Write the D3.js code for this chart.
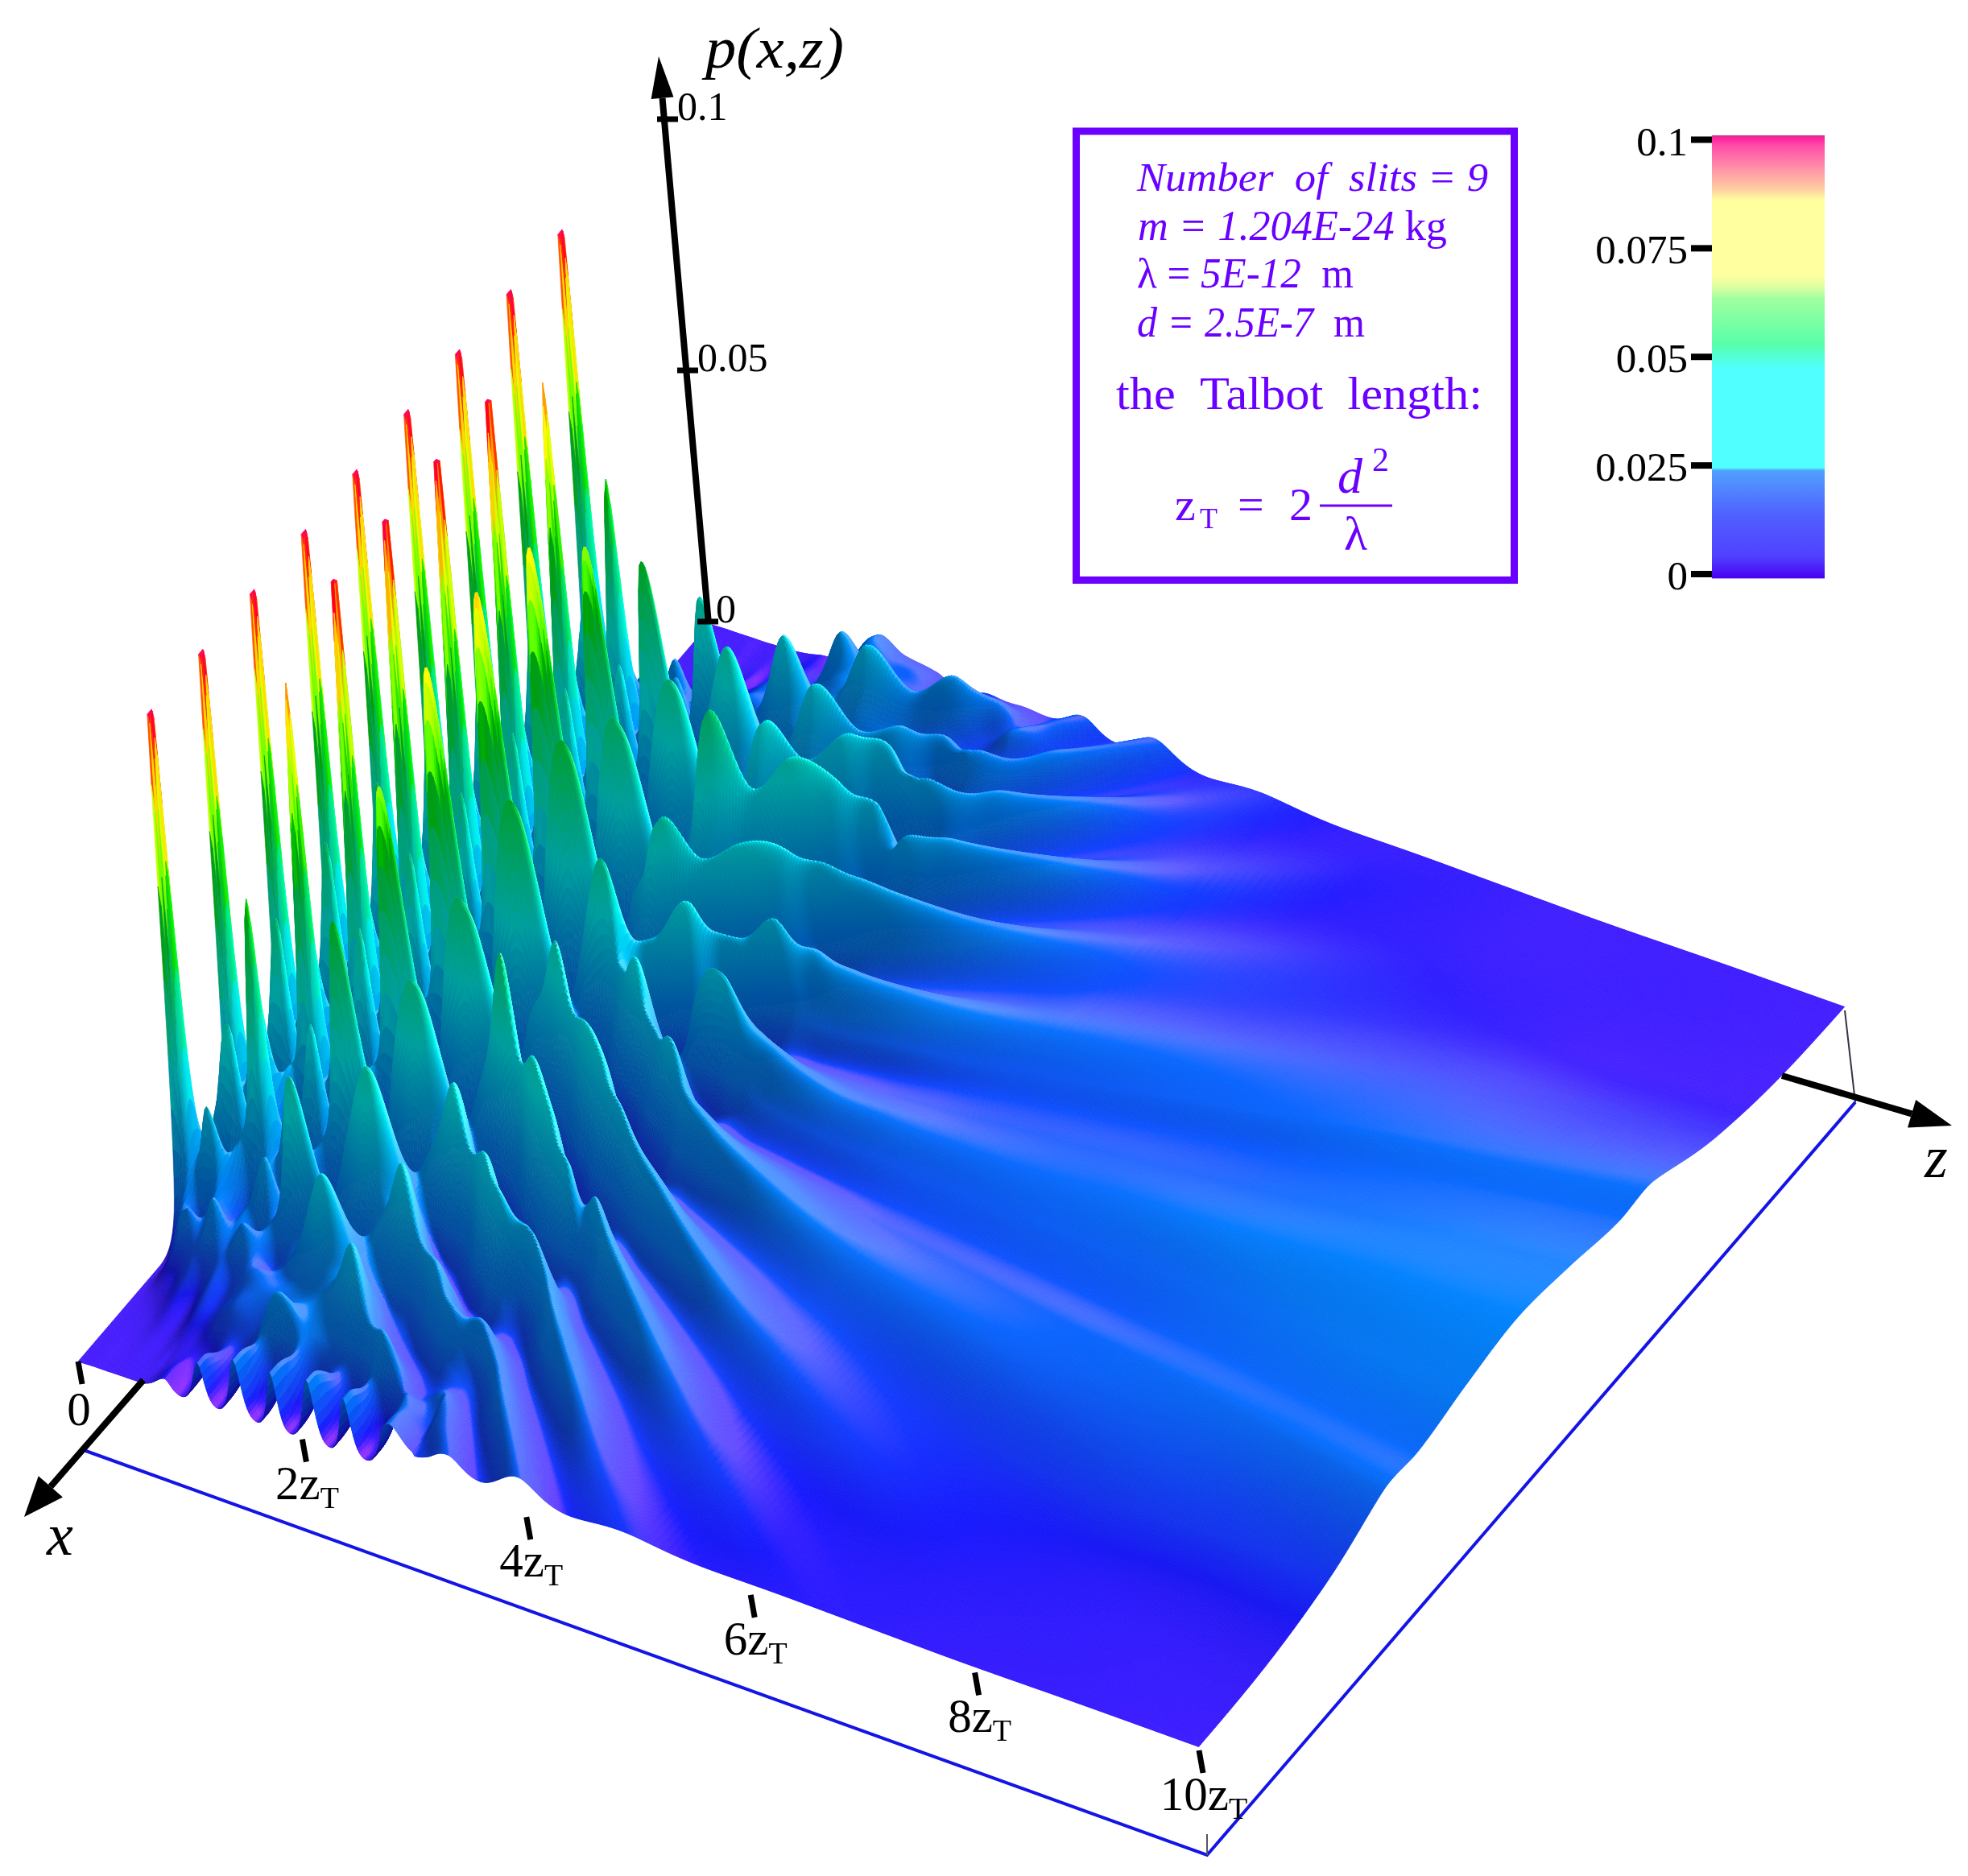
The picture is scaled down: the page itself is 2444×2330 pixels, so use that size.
<!DOCTYPE html>
<html><head><meta charset="utf-8">
<script src="https://cdn.jsdelivr.net/npm/d3@7"></script>
<style>
html,body{margin:0;padding:0;background:#fff}
#wrap{position:relative;width:2444px;height:2330px;overflow:hidden}
canvas,svg{position:absolute;left:0;top:0}
text{font-family:"Liberation Serif","Times New Roman",serif}
</style></head><body><div id="wrap"></div>
<script>
// Near field: distance along the beam (Talbot lengths) and transverse position (slit spacings).
const zRows=[0,.125,.25,.375,.5,.625,.75,.875,1,1.25,1.5,1.75,2,2.25,2.5,2.75,3,3.25,3.5,3.75];
const xCols=[0,.25,.5,.75,1,1.25,1.5,1.75,2,2.25,2.5,2.75,3,3.25,3.5,3.75,4,4.25,4.5,4.75,5,5.25,5.5,5.75,6,6.25];
// p(x,z), in units of 0.001 (pattern mirrors about x = 0).
// The tallest spikes run past the top of the p range and are cut off at 0.1.
const pTable=[
[125,5,.4,5,125,5,.4,5,125,5,.4,5,125,5,.4,5,125,5,.1,0,0,0,0,0,0,0],
[19,20,19,20,19,20,19,20,19,20,19,20,19,20,19,18,17,13,6,2,.5,.2,.1,.1,.1,.1],
[48,8,48,8,48,8,48,8,47,8,45,8,42,8,36,7,26,6,12,3,1.5,.5,.2,.1,.1,.1],
[19,21,19,21,19,21,19,21,19,21,19,20,18,19,18,17,15,12,9,6,3,1.5,.6,.3,.2,.1],
[3,6,115,6,3,6,112,6,3,6,92,7,3,11,62,11,5,7,16,5,2,1,.5,.3,.2,.1],
[19,21,19,21,19,20,19,20,19,20,18,18,16,16,15,14,12,11,9,7,5,3,1.5,.7,.4,.2],
[44,9,44,9,44,9,43,9,41,9,38,9,34,9,28,9,20,8,13,6,4,3,1.5,.8,.5,.3],
[19,19,19,19,18,19,18,19,17,18,16,16,15,15,13,12,11,11,10,8,6,5,3,1.8,1,.6],
[83,9,3,9,80,9,3,9,69,10,4,11,55,13,5,14,37,12,6,9,8,7,4,3,2,1],
[34,11,34,11,33,11,32,11,30,11,28,11,25,11,21,11,18,9,13,9,9,7,5,3.5,2.5,1.5],
[4,20,52,20,4,20,44,20,5,20,41,21,6,20,37,20,7,17,28,14,10,12,17,10,10,8],
[22,13,22,13,21,13,20,13,19,13,18,14,17,15,17,16,16,14,15,14,14,12,10,8,8,6],
[40,14,4,14,36,15,5,20,45,20,5,20,32,20,6,16,28,16,8,14,24,13,7,7,7,5],
[14,24,16,5,10,28,12,4,11,30,12,4,10,24,10,5,9,18,9,6,8,14,8,5,4,3],
[4,14,30,14,3,14,30,15,3,17,35,17,3,15,28,14,4,11,18,9,5,8,16,8,5,5],
[20,9,8,22,12,4,14,28,14,4,14,30,14,4,12,25,11,5,8,15,8,5,6,10,6,4],
[26,9,4,9,25,9,4,9,24,9,5,10,24,8,6,20,8,5,8,14,7,6,9,7,5,4],
[16,12,6,8,12,18,9,6,12,20,8,8,20,8,6,10,15,7,5,7,10,6,5,6,7,5],
[12,9,6,7,11,14,8,6,9,14,16,8,10,15,7,6,7,9,11,6,5,7,9,6,5,5],
[10,8,6,6,9,12,10,7,7,10,12,8,8,11,11,7,6,7,9,9,6,6,7,7,6,5]
];
// Far field: ridges fan out along rays, so this table is indexed by the ray slope |x|/z.
const farRows=[3,3.5,4,4.5,5,6,7,8,9,10];
const rayCols=[0,.1,.19,.26,.38,.53,.68,.815,.95,1.1,1.25,1.4,1.55,1.7,1.85,2.1,2.5,3];
const farTable=[
[24,12,5,10,22,6,23,6,25,6,24,5,16,5,10,5,5,4],
[14,8,5,8,15,6,17,6,17,5.5,14,5,10,4,6,4,3.5,3],
[10,7,5,7.5,12,6,12,5.5,12,5,9,4,7,3.5,4,3,3,2.5],
[9,7,5.5,7,10,6,9,5,8,4,5,3,4,3,3,2.5,2,2],
[8.5,7,6,7,9,6,7,4,5,3,3.5,2.5,3,2,2,2,1.5,1.5],
[8.5,7.5,6.5,7.5,8,4.5,4,2.5,2.5,1.8,2,1.6,1.6,1.4,1.4,1.2,1,1],
[9.5,8,7,8,7,3.5,2.5,1.8,1.5,1.2,1.2,1,1,.9,.9,.8,.8,.8],
[10.5,9,8,8.5,6,2.5,1.5,1,.8,.8,.8,.7,.7,.6,.6,.6,.6,.6],
[11.5,10,8.5,8.5,4.5,1.5,1,.7,.6,.6,.5,.5,.5,.5,.5,.5,.5,.5],
[12,10.5,8.5,8.5,3.5,1,.6,.5,.5,.5,.4,.4,.4,.4,.4,.4,.4,.4]
];
// Saw-teeth of the near edge (x at its lowest), 0.001 units
const edgeZ=[.6,.78,.93,1.09,1.25,1.42,1.6,1.75,1.9,2.08,2.25,2.4,2.57,2.75,3];
const edgeP=[.3,2.5,.2,8,.3,11,.3,11,.3,12,.3,11,.3,8,5];

const zTicks=[0,2,4,6,8,10];
const zTickLabels=["0","2z","4z","6z","8z","10z"];
const pTicks=[0,.05,.1];
const pTickLabels=["0","0.05","0.1"];
const barTicks=[0,.025,.05,.075,.1];
const barTickLabels=["0","0.025","0.05","0.075","0.1"];
// surface colour: hue against p
const hueP=[0,.002,.004,.007,.01,.018,.028,.04,.05,.06,.07,.08,.09,.097,.1];
const hueDeg=[250,243,232,222,212,200,185,165,145,118,85,60,28,-15,-25];
// colour bar
const barP=[-.001,.004,.0135,.0238,.0245,.0473,.0531,.0634,.0663,.0688,.0861,.0885,.0934,.0985,.1004,.101];
const barColors=["#4800f0","#5040ff","#5060ff","#50a0ff","#50ffff","#50ffff","#58ffa8","#a0ffa0","#e0ffa0","#ffffa0","#ffffa0","#ffd0a0","#ff90a8","#ff50a8","#ff20a0","#c04080"];

const W=2444,H=2330,XMAX=6.15;
const wrap=d3.select("#wrap");
const canvas=wrap.append("canvas").attr("width",W).attr("height",H);
const ctx=canvas.node().getContext("2d");
const svg=wrap.append("svg").attr("width",W).attr("height",H);

// ---- scales and view
const uScale=d3.scaleLinear([-XMAX,XMAX],[0,1]);
const vScale=d3.scaleLinear([0,10],[0,1]);
const hScale=d3.scaleLinear([0,.1],[0,647]);
const A=[97,1691],B=[1489,2174],C=[2291,1255],D=[881,775],LEAN=.075;
function floorPt(x,z){const u=uScale(x),v=vScale(z);
  return [ (1-u)*((1-v)*A[0]+v*B[0])+u*((1-v)*D[0]+v*C[0]),
           (1-u)*((1-v)*A[1]+v*B[1])+u*((1-v)*D[1]+v*C[1]) ];}
function proj(x,z,p){const f=floorPt(x,z),h=hScale(p);return [f[0]-LEAN*h,f[1]-h];}

// ---- smooth resampling of the tables for drawing (log-height spline)
const EPS=.0006,lg=v=>Math.log(v*.001+EPS);
const logTable=pTable.map(r=>[...r.slice(1).reverse(),...r].map(lg));
const logFar=farTable.map(r=>[...r.slice(1).reverse(),...r].map(lg));
const fullRay=[...rayCols.slice(1).reverse().map(d=>-d),...rayCols];
const logEdge=edgeP.map(lg);
const nCol=logTable[0].length;
function hermite(t,f0,f1,m0,m1,h){const t2=t*t,t3=t2*t;
  return (2*t3-3*t2+1)*f0+(t3-2*t2+t)*h*m0+(-2*t3+3*t2)*f1+(t3-t2)*h*m1;}
function tangent(ts,fs,i){const a=Math.max(0,i-1),b=Math.min(ts.length-1,i+1);return (fs[b]-fs[a])/(ts[b]-ts[a]);}
function spline(ts,fs,t){let i=d3.bisectRight(ts,t)-1;i=Math.max(0,Math.min(ts.length-2,i));
  const tt=Math.max(ts[0],Math.min(ts[ts.length-1],t));
  const h=ts[i+1]-ts[i];return hermite((tt-ts[i])/h,fs[i],fs[i+1],tangent(ts,fs,i),tangent(ts,fs,i+1),h);}
function rowEval(k,x){const a=logTable[k];let q=(x+6.25)*4;q=Math.max(0,Math.min(nCol-1.0001,q));
  const i=Math.floor(q),t=q-i;
  const m0=i>0?(a[i+1]-a[i-1])/2:a[1]-a[0], m1=i<nCol-2?(a[i+2]-a[i])/2:a[nCol-1]-a[nCol-2];
  return hermite(t,a[i],a[i+1],m0,m1,1);}
// sideways drift of the ridges between rows, in slit spacings per Talbot length
function drift(x,z){const ax=Math.abs(x),sg=x<0?-1:1;
  if(z<1.75)return 0;
  if(z<2)return sg*.5*Math.min(1,ax);
  if(z<2.5)return sg*Math.min(1,ax);
  if(z<3)return sg*.5*Math.min(1,ax);
  return sg*Math.min(1,ax/z);}
function nearLog(x,z){
  let i=d3.bisectRight(zRows,z)-1;i=Math.max(0,Math.min(zRows.length-2,i));
  const s=drift(x,z),n=zRows.length;
  const at=k=>rowEval(k,x-s*(z-zRows[k]));
  const a=i>0?i-1:i,b=Math.min(n-1,i+2);
  const f0=at(i),f1=at(i+1);
  const m0=i===0?0:(f1-at(a))/(zRows[i+1]-zRows[a]);
  const m1=(at(b)-f0)/(zRows[b]-zRows[i]);
  return hermite((z-zRows[i])/(zRows[i+1]-zRows[i]),f0,f1,m0,m1,zRows[i+1]-zRows[i]);
}
const fineZ=[];
for(let z=0;z<5;z+=1/64)fineZ.push(z);
for(let z=5;z<=10.0001;z+=1/16)fineZ.push(Math.min(z,10));
const fineX=[];const dxFine=1/48;
for(let k=Math.ceil(-XMAX/dxFine);k<=Math.floor(XMAX/dxFine);k++)fineX.push(k*dxFine);
fineX.unshift(-XMAX);fineX.push(XMAX);

const farCols=fullRay.map((_,c)=>logFar.map(r=>r[c]));
const smooth=t=>{t=Math.max(0,Math.min(1,t));return t*t*(3-2*t);};
const P=fineZ.map(z=>{
  const farAt=z>=3?farCols.map(col=>spline(farRows,col,z)):null;
  const w=smooth((z-3)/.5);
  const edgeVal=(z>=.6&&z<=3)?spline(edgeZ,logEdge,z):0;
  return fineX.map(x=>{
    let l=0;
    if(w<1)l+=(1-w)*nearLog(x,z);
    if(w>0)l+=w*spline(fullRay,farAt,Math.abs(x)/z);
    if(x<-5.4&&z>=.6&&z<=3){const e=smooth((-x-5.4)/.65);l=(1-e)*l+e*edgeVal;}
    return Math.max(0,Math.min(.1,Math.exp(l)-EPS));
  });
});

// ---- colour look-up
const hueOf=d3.scaleLinear(hueP,hueDeg).clamp(true);
const LUT=d3.range(1001).map(i=>{const p=i/1000*.1,c=d3.rgb(d3.hsl(hueOf(p),1,.5));
  const lift=Math.max(0,1-p/.012)*30;return [Math.min(255,c.r+lift),Math.min(255,c.g+lift),c.b];});

// ---- lighting
const Lx=.55,Lz=.5,Lu=.67,pxPerD=98,pxPerZ=148,AMB=.62;
function shadeColor(p,gx,gz){
  const nn=Math.hypot(gx,gz,1);
  const s=(-gx*Lx-gz*Lz+Lu)/nn/Lu;
  let b=s<1?AMB+(1-AMB)*Math.max(0,s):1;
  b=Math.max(b,Math.min(1,(p-.045)/.02));
  const w=s>1?Math.min(.38,(s-1)*1.8):0;
  const c=LUT[Math.round(p/.1*1000)];
  const r=Math.min(255,c[0]*b+w*210),g=Math.min(255,c[1]*b+w*55),bl=Math.min(255,c[2]*b+w*100);
  return `rgb(${r|0},${g|0},${bl|0})`;
}

// ---- painter's order: far x first, small z first
const nz=fineZ.length,nx=fineX.length;
ctx.lineWidth=.7;ctx.lineJoin="round";
const screen=fineZ.map((z,j)=>fineX.map((x,i)=>proj(x,z,P[j][i])));
for(let i=nx-2;i>=0;i--){
  const il=Math.max(0,i-1),ir=Math.min(nx-1,i+2);
  for(let j=0;j<nz-1;j++){
    const jl=Math.max(0,j-1),jr=Math.min(nz-1,j+2);
    const p=(P[j][i]+P[j][i+1]+P[j+1][i]+P[j+1][i+1])/4;
    const gx=(hScale(P[j][ir]+P[j+1][ir])-hScale(P[j][il]+P[j+1][il]))/2/((fineX[ir]-fineX[il])*pxPerD);
    const gz=(hScale(P[jr][i]+P[jr][i+1])-hScale(P[jl][i]+P[jl][i+1]))/2/((fineZ[jr]-fineZ[jl])*pxPerZ);
    const col=shadeColor(p,gx,gz);
    ctx.fillStyle=col;ctx.strokeStyle=col;
    const a=screen[j][i],b=screen[j][i+1],c=screen[j+1][i+1],d=screen[j+1][i];
    ctx.beginPath();ctx.moveTo(a[0],a[1]);ctx.lineTo(b[0],b[1]);ctx.lineTo(c[0],c[1]);ctx.lineTo(d[0],d[1]);ctx.closePath();
    ctx.fill();ctx.stroke();
  }
}

// ---- overlay
const line=d3.line();
function arrow(from,to,headLen,headW,lw){
  const dx=to[0]-from[0],dy=to[1]-from[1],L=Math.hypot(dx,dy),ux=dx/L,uy=dy/L;
  const bx=to[0]-ux*headLen,by=to[1]-uy*headLen;
  svg.append("path").attr("d",line([from,[bx,by]])).attr("stroke","#000").attr("stroke-width",lw).attr("fill","none");
  svg.append("path").attr("d",line([to,[bx-uy*headW/2,by+ux*headW/2],[bx+uy*headW/2,by-ux*headW/2]])+"Z").attr("fill","#000");
}
function txt(s,x,y,size,opt={}){return svg.append("text").attr("x",x).attr("y",y).attr("font-size",size)
  .attr("fill",opt.fill||"#000").attr("font-style",opt.italic?"italic":"normal").attr("text-anchor",opt.anchor||"start")
  .attr("textLength",opt.len||null).attr("lengthAdjust",opt.len?"spacingAndGlyphs":null).text(s);}

// base frame
const E=[101,1800],F=[1499,2304],G=[2304,1369];
svg.append("path").attr("d",line([E,F,G])).attr("fill","none").attr("stroke","#1414e6").attr("stroke-width",4);
svg.append("path").attr("d",line([C,G])).attr("stroke","#334").attr("stroke-width",2).attr("fill","none");
svg.append("path").attr("d",line([[1499,2278],F])).attr("stroke","#556").attr("stroke-width",2).attr("fill","none");

arrow([178,1714],[30,1884],50,40,8);
arrow([2213,1336],[2424,1398],52,36,8);
arrow([880,775],[818,70],52,28,8);

// z ticks on the near edge
const zt=svg.append("g");
zTicks.forEach((z,i)=>{const f=floorPt(-XMAX,z);
  zt.append("line").attr("x1",f[0]).attr("y1",f[1]).attr("x2",f[0]+5).attr("y2",f[1]+28).attr("stroke","#000").attr("stroke-width",7);
  const t=zt.append("text").attr("x",f[0]+(i?6:1)).attr("y",f[1]+(i?74:79)).attr("font-size",59).attr("text-anchor","middle").text(zTickLabels[i]);
  if(i)t.append("tspan").attr("font-size",38).attr("dy",11).text("T");
});

// p axis ticks
const axisY=d3.scaleLinear([0,.1],[772,148]),axisX=d3.scaleLinear([0,.1],[880,830]);
pTicks.forEach((p,i)=>{
  svg.append("line").attr("x1",axisX(p)-14).attr("y1",axisY(p)).attr("x2",axisX(p)+12).attr("y2",axisY(p)).attr("stroke","#000").attr("stroke-width",7);
  txt(pTickLabels[i],axisX(p)+(i?11:9),axisY(p)+1,50);
});
txt("p(x,z)",876,84,72,{italic:true,len:172});
txt("x",58,1931,74,{italic:true});
txt("z",2390,1462,74,{italic:true});

// info box
const ink="#6a00ff",sp="\u00a0";
svg.append("rect").attr("x",1336.5).attr("y",163).attr("width",544).attr("height",557.5).attr("fill","none").attr("stroke",ink).attr("stroke-width",9);
const o={fill:ink};
txt(`Number${sp}${sp}of${sp}${sp}slits = 9`,1412,237,50,{fill:ink,italic:true,len:436});
const l2=txt("",1413,298,52,{fill:ink,len:384});l2.append("tspan").attr("font-style","italic").text("m = 1.204E-24 ");l2.append("tspan").text("kg");
const l3=txt("",1412,357,52,{fill:ink,len:269});l3.append("tspan").text("λ = ");l3.append("tspan").attr("font-style","italic").text("5E-12 ");l3.append("tspan").text(sp+"m");
const l4=txt("",1412,418,52,{fill:ink,len:283});l4.append("tspan").attr("font-style","italic").text("d = 2.5E-7 ");l4.append("tspan").text(sp+"m");
txt(`the${sp}${sp}Talbot${sp}${sp}length:`,1386,508,56,{fill:ink,len:455});
txt("z",1459,646,58,o);txt("T",1490,656,36,o);
txt("=",1537,646,58,o);txt("2",1601,646,58,o);
svg.append("line").attr("x1",1639).attr("x2",1729).attr("y1",628).attr("y2",628).attr("stroke",ink).attr("stroke-width",3);
txt("d",1661,612,62,{fill:ink,italic:true});txt("2",1704,585,42,o);txt("λ",1669,683,60,o);

// colour bar
const barY=d3.scaleLinear([0,.1],[713,173.5]);
const barX0=2126,barW=140;
const defs=svg.append("defs");
const grad=defs.append("linearGradient").attr("id","bar").attr("x1",0).attr("x2",0).attr("y1",1).attr("y2",0);
const lo=barP[0],hi=barP[barP.length-1];
barP.forEach((p,i)=>grad.append("stop").attr("offset",(p-lo)/(hi-lo)).attr("stop-color",barColors[i]));
svg.append("rect").attr("x",barX0).attr("y",barY(hi)).attr("width",barW).attr("height",barY(lo)-barY(hi)).attr("fill","url(#bar)");
barTicks.forEach((p,i)=>{
  svg.append("line").attr("x1",2100).attr("x2",barX0).attr("y1",barY(p)).attr("y2",barY(p)).attr("stroke","#000").attr("stroke-width",8);
  txt(barTickLabels[i],2096,barY(p)+19,51,{anchor:"end"});
});
</script></body></html>
